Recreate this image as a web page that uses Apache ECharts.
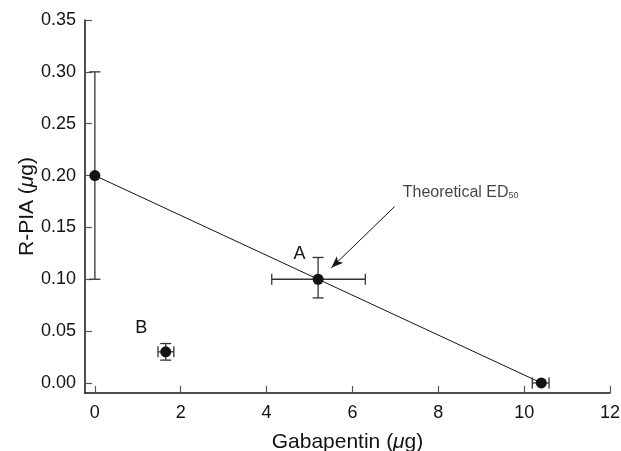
<!DOCTYPE html>
<html>
<head>
<meta charset="utf-8">
<script src="https://cdn.jsdelivr.net/npm/echarts@6/dist/echarts.min.js"></script>
<style>
    html, body {margin: 0; padding: 0; background: #fff;}
    #chart {width: 621px; height: 451px;}
</style>
</head>
<body>
<div id="chart"></div>
<script>
    // points: R-PIA alone, B, A (experimental), gabapentin alone
    let doseX = [0, 1.65, 5.2, 10.4];
    let doseY = [0.20, 0.03, 0.10, 0.00];
    let xErrLow = [0, 1.47, 4.12, 10.19];
    let xErrHigh = [0, 1.84, 6.30, 10.58];
    let yErrLow = [0.10, 0.022, 0.082, 0];
    let yErrHigh = [0.30, 0.038, 0.121, 0];
    let pointNames = ['', 'B', 'A', ''];

    // additive line
    let lineX = [0, 10.4];
    let lineY = [0.20, 0.00];

    // annotation
    let arrowFrom = [6.98, 0.170];
    let arrowTo = [5.51, 0.111];
    let notePos = [7.16, 0.184];

    let xTicks = [0, 2, 4, 6, 8, 10, 12];
    let yTicks = [0, 0.05, 0.10, 0.15, 0.20, 0.25, 0.30, 0.35];

    let ink = '#141213';
    let font = '"Liberation Sans", Arial, sans-serif';

    let pts = doseX.map((x, i) => ({
        value: [x, doseY[i]],
        label: {
            show: pointNames[i] != '',
            formatter: pointNames[i],
            position: 'left',
            offset: pointNames[i] == 'A' ? [-2, -25] : [-8, -24]
        }
    }));
    let errs = doseX.map((x, i) => [x, doseY[i], xErrLow[i], xErrHigh[i], yErrLow[i], yErrHigh[i]]);
    let lineData = lineX.map((x, i) => [x, lineY[i]]);

    let errStyle = {stroke: '#333', lineWidth: 1.3};
    let renderErr = (params, api) => {
        let x = api.value(0), y = api.value(1);
        let xl = api.value(2), xh = api.value(3), yl = api.value(4), yh = api.value(5);
        let cap = 5.5;
        let kids = [];
        let seg = (a, b) => kids.push({type: 'line', shape: {x1: a[0], y1: a[1], x2: b[0], y2: b[1]}, style: errStyle});
        if (yl != yh) {
            let p1 = api.coord([x, yl]), p2 = api.coord([x, yh]);
            seg(p1, p2);
            seg([p1[0] - cap, p1[1]], [p1[0] + cap, p1[1]]);
            seg([p2[0] - cap, p2[1]], [p2[0] + cap, p2[1]]);
        }
        if (xl != xh) {
            let p1 = api.coord([xl, y]), p2 = api.coord([xh, y]);
            seg(p1, p2);
            seg([p1[0], p1[1] - cap], [p1[0], p1[1] + cap]);
            seg([p2[0], p2[1] - cap], [p2[0], p2[1] + cap]);
        }
        return {type: 'group', children: kids};
    };

    let myChart = echarts.init(document.getElementById('chart'));
    let option = {
        animation: false,
        textStyle: {fontFamily: font, color: ink},
        grid: {left: 85, right: 11, top: 20, bottom: 58, containLabel: false, outerBoundsMode: 'none'},
        xAxis: {
            type: 'value',
            min: -0.23,
            max: 12,
            splitLine: {show: false},
            axisLine: {onZero: false, lineStyle: {color: ink, width: 1.5}},
            axisTick: {inside: true, length: 7, lineStyle: {color: '#555', width: 1.2}, customValues: xTicks},
            axisLabel: {customValues: xTicks, fontSize: 18, color: ink, margin: 11, fontFamily: font},
            name: 'Gabapentin ({i|μ}g)',
            nameLocation: 'middle',
            nameGap: 39,
            nameMoveOverlap: false,
            nameTextStyle: {fontSize: 21, color: ink, fontFamily: font,
                rich: {i: {fontSize: 21, fontStyle: 'italic', color: ink, fontFamily: font}}}
        },
        yAxis: {
            type: 'value',
            min: -0.0097,
            max: 0.35,
            splitLine: {show: false},
            axisLine: {onZero: false, lineStyle: {color: ink, width: 1.5}},
            axisTick: {inside: true, length: 7, lineStyle: {color: '#555', width: 1.2}, customValues: yTicks},
            axisLabel: {customValues: yTicks, fontSize: 18, color: ink, margin: 9, fontFamily: font,
                formatter: v => v.toFixed(2)},
            name: 'R-PIA ({i|μ}g)',
            nameLocation: 'middle',
            nameGap: 47,
            nameMoveOverlap: false,
            nameTextStyle: {fontSize: 21, color: ink, fontFamily: font,
                rich: {i: {fontSize: 21, fontStyle: 'italic', color: ink, fontFamily: font}}}
        },
        series: [
            {
                type: 'line',
                data: lineData,
                symbol: 'none',
                lineStyle: {color: ink, width: 1},
                z: 1,
                markLine: {
                    silent: true,
                    symbol: ['none', 'arrow'],
                    symbolSize: [7, 12],
                    label: {show: false},
                    lineStyle: {color: ink, width: 1, type: 'solid'},
                    data: [[{coord: arrowFrom}, {coord: arrowTo}]]
                }
            },
            {
                type: 'custom',
                renderItem: renderErr,
                data: errs,
                z: 2
            },
            {
                type: 'scatter',
                data: pts,
                symbolSize: 11,
                itemStyle: {color: ink, opacity: 1},
                label: {fontSize: 18, color: ink, fontFamily: font},
                z: 3
            },
            {
                type: 'scatter',
                data: [notePos],
                symbolSize: 1,
                itemStyle: {color: 'rgba(0,0,0,0)'},
                label: {
                    show: true,
                    position: 'right',
                    distance: 0,
                    formatter: 'Theoretical ED{s|50}',
                    fontSize: 16,
                    color: ink,
                    fontFamily: font,
                    rich: {s: {fontSize: 9, color: ink, fontFamily: font, verticalAlign: 'bottom', padding: [6, 0, 0, 0]}}
                }
            }
        ]
    };
    myChart.setOption(option);
</script>
</body>
</html>
